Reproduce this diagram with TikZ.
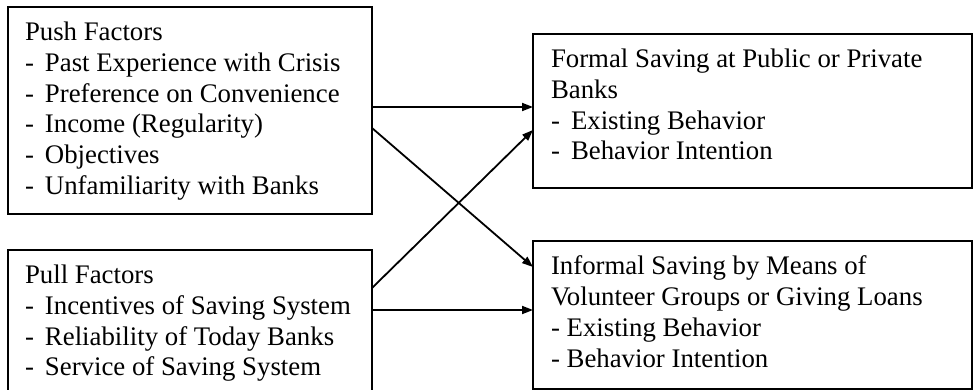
\documentclass[tikz,border=0pt]{standalone}
\usepackage{fontspec}
\setmainfont{Liberation Serif}
\usetikzlibrary{arrows.meta}
\newcommand{\dashitem}{\makebox[20pt][l]{-}}

\begin{document}
\begin{tikzpicture}[y=1pt, x=1pt, yscale=-1, inner sep=0pt, outer sep=0pt,
  box/.style={draw=black, line width=1.8pt, anchor=north west},
  boxtext/.style={anchor=north west, align=left,
    font=\fontsize{26.8}{30.8}\selectfont},
  link/.style={draw=black, line width=1.8pt,
    -{Triangle[length=11pt,width=8pt]}}]
  \useasboundingbox (0,0) rectangle (973,390);

  % factor boxes
  \node[box, minimum width=364pt, minimum height=207pt] (push) at (8,7) {};
  \node[boxtext] (pushtext) at ([shift={(17pt,15pt)}]push.north west)
    {Push Factors\\
     \dashitem Past Experience with Crisis\\
     \dashitem Preference on Convenience\\
     \dashitem Income (Regularity)\\
     \dashitem Objectives\\
     \dashitem Unfamiliarity with Banks};
  \node[box, minimum width=364pt, minimum height=145pt] (pull) at (8,250) {};
  \node[boxtext] (pulltext) at ([shift={(17pt,15pt)}]pull.north west)
    {Pull Factors\\
     \dashitem Incentives of Saving System\\
     \dashitem Reliability of Today Banks\\
     \dashitem Service of Saving System};

  % saving boxes
  \node[box, minimum width=439pt, minimum height=154pt] (formal) at (533,34) {};
  \node[boxtext] (formaltext) at ([shift={(18pt,15pt)}]formal.north west)
    {Formal Saving at Public or Private\\
     Banks\\
     \dashitem Existing Behavior\\
     \dashitem Behavior Intention};
  \node[box, minimum width=439pt, minimum height=148pt] (informal) at (533,241) {};
  \node[boxtext] (informaltext) at ([shift={(18pt,15pt)}]informal.north west)
    {Informal Saving by Means of\\
     Volunteer Groups or Giving Loans\\
     - Existing Behavior\\
     - Behavior Intention};

  % links
  \draw[link] ([yshift=100pt]push.north east) -- ([yshift=73pt]formal.north west);
  \draw[link] ([yshift=121pt]push.north east) -- ([yshift=26pt]informal.north west);
  \draw[link] ([yshift=38pt]pull.north east) -- ([yshift=96pt]formal.north west);
  \draw[link] ([yshift=60pt]pull.north east) -- ([yshift=69pt]informal.north west);
\end{tikzpicture}
\end{document}
